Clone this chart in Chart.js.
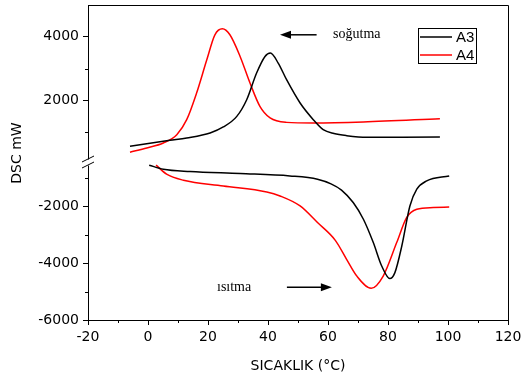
<!DOCTYPE html>
<html>
<head>
<meta charset="utf-8">
<script src="https://cdn.jsdelivr.net/npm/chart.js@4"></script>
<style>
  body { margin: 0; background: #fff; }
</style>
</head>
<body>
<canvas id="dscChart" width="523" height="383"></canvas>
<script>
const seriesNames = ['A3', 'A4'];
const seriesColors = ['#000000', '#ff0000'];

// cooling (soğutma) curves - upper part of the broken axis
const a3CoolTemp = [-6, 7.3, 12.9, 20.7, 25.1, 29.6, 32.9, 36.2, 39, 40.8, 43.4, 46.2, 50.7, 55.1, 58.4, 62, 66.2, 72.9, 85, 97.3];
const a3CoolDsc  = [556, 744, 819, 976, 1165, 1498, 2022, 2860, 3382, 3490, 3174, 2650, 1918, 1394, 1080, 960, 892, 838, 845, 851];
const a4CoolTemp = [-6, -0.4, 5.1, 9.6, 12.9, 16.2, 19.6, 22.3, 24.8, 27.3, 30.7, 34, 37.3, 40.7, 46.2, 55.1, 71.8, 97.3];
const a4CoolDsc  = [370, 505, 662, 923, 1394, 2232, 3278, 4063, 4251, 4063, 3382, 2546, 1812, 1447, 1309, 1290, 1322, 1425];

// heating (ısıtma) curves - lower part
const a3HeatTemp = [0.4, 5.1, 14, 30.7, 47.3, 56.5, 61, 64.5, 68.4, 71.8, 75.1, 77.9, 80.6, 82.3, 84.6, 87.3, 89.6, 92.9, 100.4];
const a3HeatDsc  = [-542, -683, -764, -835, -920, -1036, -1200, -1420, -1859, -2448, -3271, -4097, -4541, -4330, -3391, -1979, -1389, -1096, -920];
const a4HeatTemp = [2.7, 6.2, 11.8, 25.1, 39.6, 44, 50.7, 56.5, 62.5, 66.2, 69.6, 74.4, 78.4, 82.9, 86.2, 89.6, 95.1, 100.4];
const a4HeatDsc  = [-542, -860, -1072, -1273, -1485, -1626, -1979, -2565, -3200, -3860, -4450, -4884, -4450, -3271, -2388, -2095, -2035, -2014];

const xTicks = [-20, 0, 20, 40, 60, 80, 100, 120];
const xMinorTicks = [-10, 10, 30, 50, 70, 90, 110];
const yTopTicks = [2000, 4000];
const yTopMinor = [1000, 3000];
const yBottomTicks = [-6000, -4000, -2000];
const yBottomMinor = [-5000, -3000, -1000];

const xTitle = 'SICAKLIK (°C)';
const yTitle = 'DSC mW';
const notes = [
    { text: 'soğutma', x: 61.7, y: 4063, axis: 'yTop', arrowFrom: 56.2, arrowTo: 44 },
    { text: 'ısıtma', x: 23, y: -4849, axis: 'yBottom', arrowFrom: 46.3, arrowTo: 61.3 }
];

const pts = (xs, ys) => xs.map((x, i) => ({ x: x, y: ys[i] }));
const tickFont = { family: 'DejaVu Sans', size: 14 };

function lineSet(label, colorIdx, xs, ys, axis) {
    return {
        label: label,
        data: pts(xs, ys),
        yAxisID: axis,
        borderColor: seriesColors[colorIdx],
        borderWidth: 1.5,
        pointRadius: 0,
        cubicInterpolationMode: 'monotone',
        fill: false
    };
}

const axisGrid = { drawOnChartArea: false, tickLength: 5, color: '#000', tickWidth: 1 };

function noPad(s) {
    s.paddingTop = 0;
    s.paddingBottom = 0;
    s.paddingLeft = 0;
    s.paddingRight = 0;
}

function yAxis(min, max, weight, ticks) {
    return {
        type: 'linear',
        position: 'left',
        stack: 'dsc',
        stackWeight: weight,
        min: min,
        max: max,
        afterBuildTicks: s => { s.ticks = ticks.map(v => ({ value: v })); },
        afterFit: s => { s.width = 88; noPad(s); },
        border: { color: '#000', width: 1 },
        grid: axisGrid,
        ticks: { font: tickFont, color: '#000', padding: 4, callback: v => String(v) }
    };
}

// minor ticks, frame, break marks, legend, notes and titles
const decorations = {
    id: 'decorations',
    afterDraw(chart) {
        const ctx = chart.ctx;
        const area = chart.chartArea;
        const sx = chart.scales.x;
        const top = chart.scales.yTop;
        const bot = chart.scales.yBottom;
        ctx.save();
        ctx.strokeStyle = '#000';
        ctx.lineWidth = 1;

        // frame top + right
        ctx.beginPath();
        ctx.moveTo(area.left, area.top + 0.5);
        ctx.lineTo(area.right + 0.5, area.top + 0.5);
        ctx.lineTo(area.right + 0.5, area.bottom);
        ctx.stroke();

        // minor ticks
        ctx.beginPath();
        xMinorTicks.forEach(v => {
            const px = Math.round(sx.getPixelForValue(v)) + 0.5;
            ctx.moveTo(px, area.bottom);
            ctx.lineTo(px, area.bottom + 3);
        });
        yTopMinor.forEach(v => {
            const py = Math.round(top.getPixelForValue(v)) + 0.5;
            ctx.moveTo(area.left, py);
            ctx.lineTo(area.left - 3, py);
        });
        yBottomMinor.forEach(v => {
            const py = Math.round(bot.getPixelForValue(v)) + 0.5;
            ctx.moveTo(area.left, py);
            ctx.lineTo(area.left - 3, py);
        });
        ctx.stroke();

        // axis break
        const by = top.bottom - 1.5;
        const ax = area.left;
        ctx.fillStyle = '#fff';
        ctx.fillRect(ax - 2, by - 3, 4, 6);
        ctx.beginPath();
        ctx.moveTo(ax - 6, by - 0.5);
        ctx.lineTo(ax + 6, by - 6.5);
        ctx.moveTo(ax - 6, by + 5.5);
        ctx.lineTo(ax + 6, by - 0.5);
        ctx.stroke();

        // legend
        const lx = area.right - 90;
        const ly = area.top + 23;
        ctx.strokeRect(lx + 0.5, ly + 0.5, 58, 35);
        ctx.font = '15px "Liberation Sans"';
        ctx.textBaseline = 'middle';
        ctx.textAlign = 'left';
        seriesNames.forEach((name, i) => {
            const yy = ly + 9 + i * 18;
            ctx.strokeStyle = seriesColors[i];
            ctx.lineWidth = 1.5;
            ctx.beginPath();
            ctx.moveTo(lx + 2, yy);
            ctx.lineTo(lx + 34, yy);
            ctx.stroke();
            ctx.fillStyle = '#000';
            ctx.fillText(name, lx + 38, yy + 1);
        });

        // notes with arrows
        ctx.font = '14px "Liberation Serif"';
        notes.forEach(n => {
            const scale = chart.scales[n.axis];
            const py = scale.getPixelForValue(n.y);
            ctx.fillStyle = '#000';
            ctx.textBaseline = 'middle';
            ctx.fillText(n.text, sx.getPixelForValue(n.x), py);
            const x1 = sx.getPixelForValue(n.arrowFrom);
            const x2 = sx.getPixelForValue(n.arrowTo);
            const dir = Math.sign(x2 - x1);
            ctx.strokeStyle = '#000';
            ctx.lineWidth = 1.5;
            ctx.beginPath();
            ctx.moveTo(x1, py);
            ctx.lineTo(x2 - dir * 8, py);
            ctx.stroke();
            ctx.beginPath();
            ctx.moveTo(x2, py);
            ctx.lineTo(x2 - dir * 11, py - 4);
            ctx.lineTo(x2 - dir * 11, py + 4);
            ctx.closePath();
            ctx.fill();
        });

        // axis titles
        ctx.font = '14px "DejaVu Sans"';
        ctx.textAlign = 'center';
        ctx.textBaseline = 'middle';
        ctx.fillText(xTitle, (area.left + area.right) / 2, 366);
        ctx.translate(17, 153);
        ctx.rotate(-Math.PI / 2);
        ctx.fillText(yTitle, 0, 0);
        ctx.restore();
    }
};

new Chart(document.getElementById('dscChart'), {
    type: 'line',
    data: {
        datasets: [
            lineSet('A3', 0, a3CoolTemp, a3CoolDsc, 'yTop'),
            lineSet('A4', 1, a4CoolTemp, a4CoolDsc, 'yTop'),
            lineSet('A3', 0, a3HeatTemp, a3HeatDsc, 'yBottom'),
            lineSet('A4', 1, a4HeatTemp, a4HeatDsc, 'yBottom')
        ]
    },
    options: {
        responsive: false,
        devicePixelRatio: 1,
        animation: false,
        layout: { padding: { left: 0, top: 5, right: 15, bottom: 0 }, autoPadding: false },
        plugins: { legend: { display: false }, tooltip: { enabled: false } },
        scales: {
            x: {
                type: 'linear',
                min: -20,
                max: 120,
                afterBuildTicks: s => { s.ticks = xTicks.map(v => ({ value: v })); },
                afterFit: s => { s.height = 63; noPad(s); },
                border: { color: '#000', width: 1 },
                grid: axisGrid,
                ticks: { font: tickFont, color: '#000', padding: 4, maxRotation: 0, callback: v => String(v) }
            },
            // left-side stacks are laid out in reverse order, so the lower part comes first
            yBottom: yAxis(-6000, -500, 156, yBottomTicks),
            yTop: yAxis(0, 5000, 159, yTopTicks)
        }
    },
    plugins: [decorations]
});
</script>
</body>
</html>
